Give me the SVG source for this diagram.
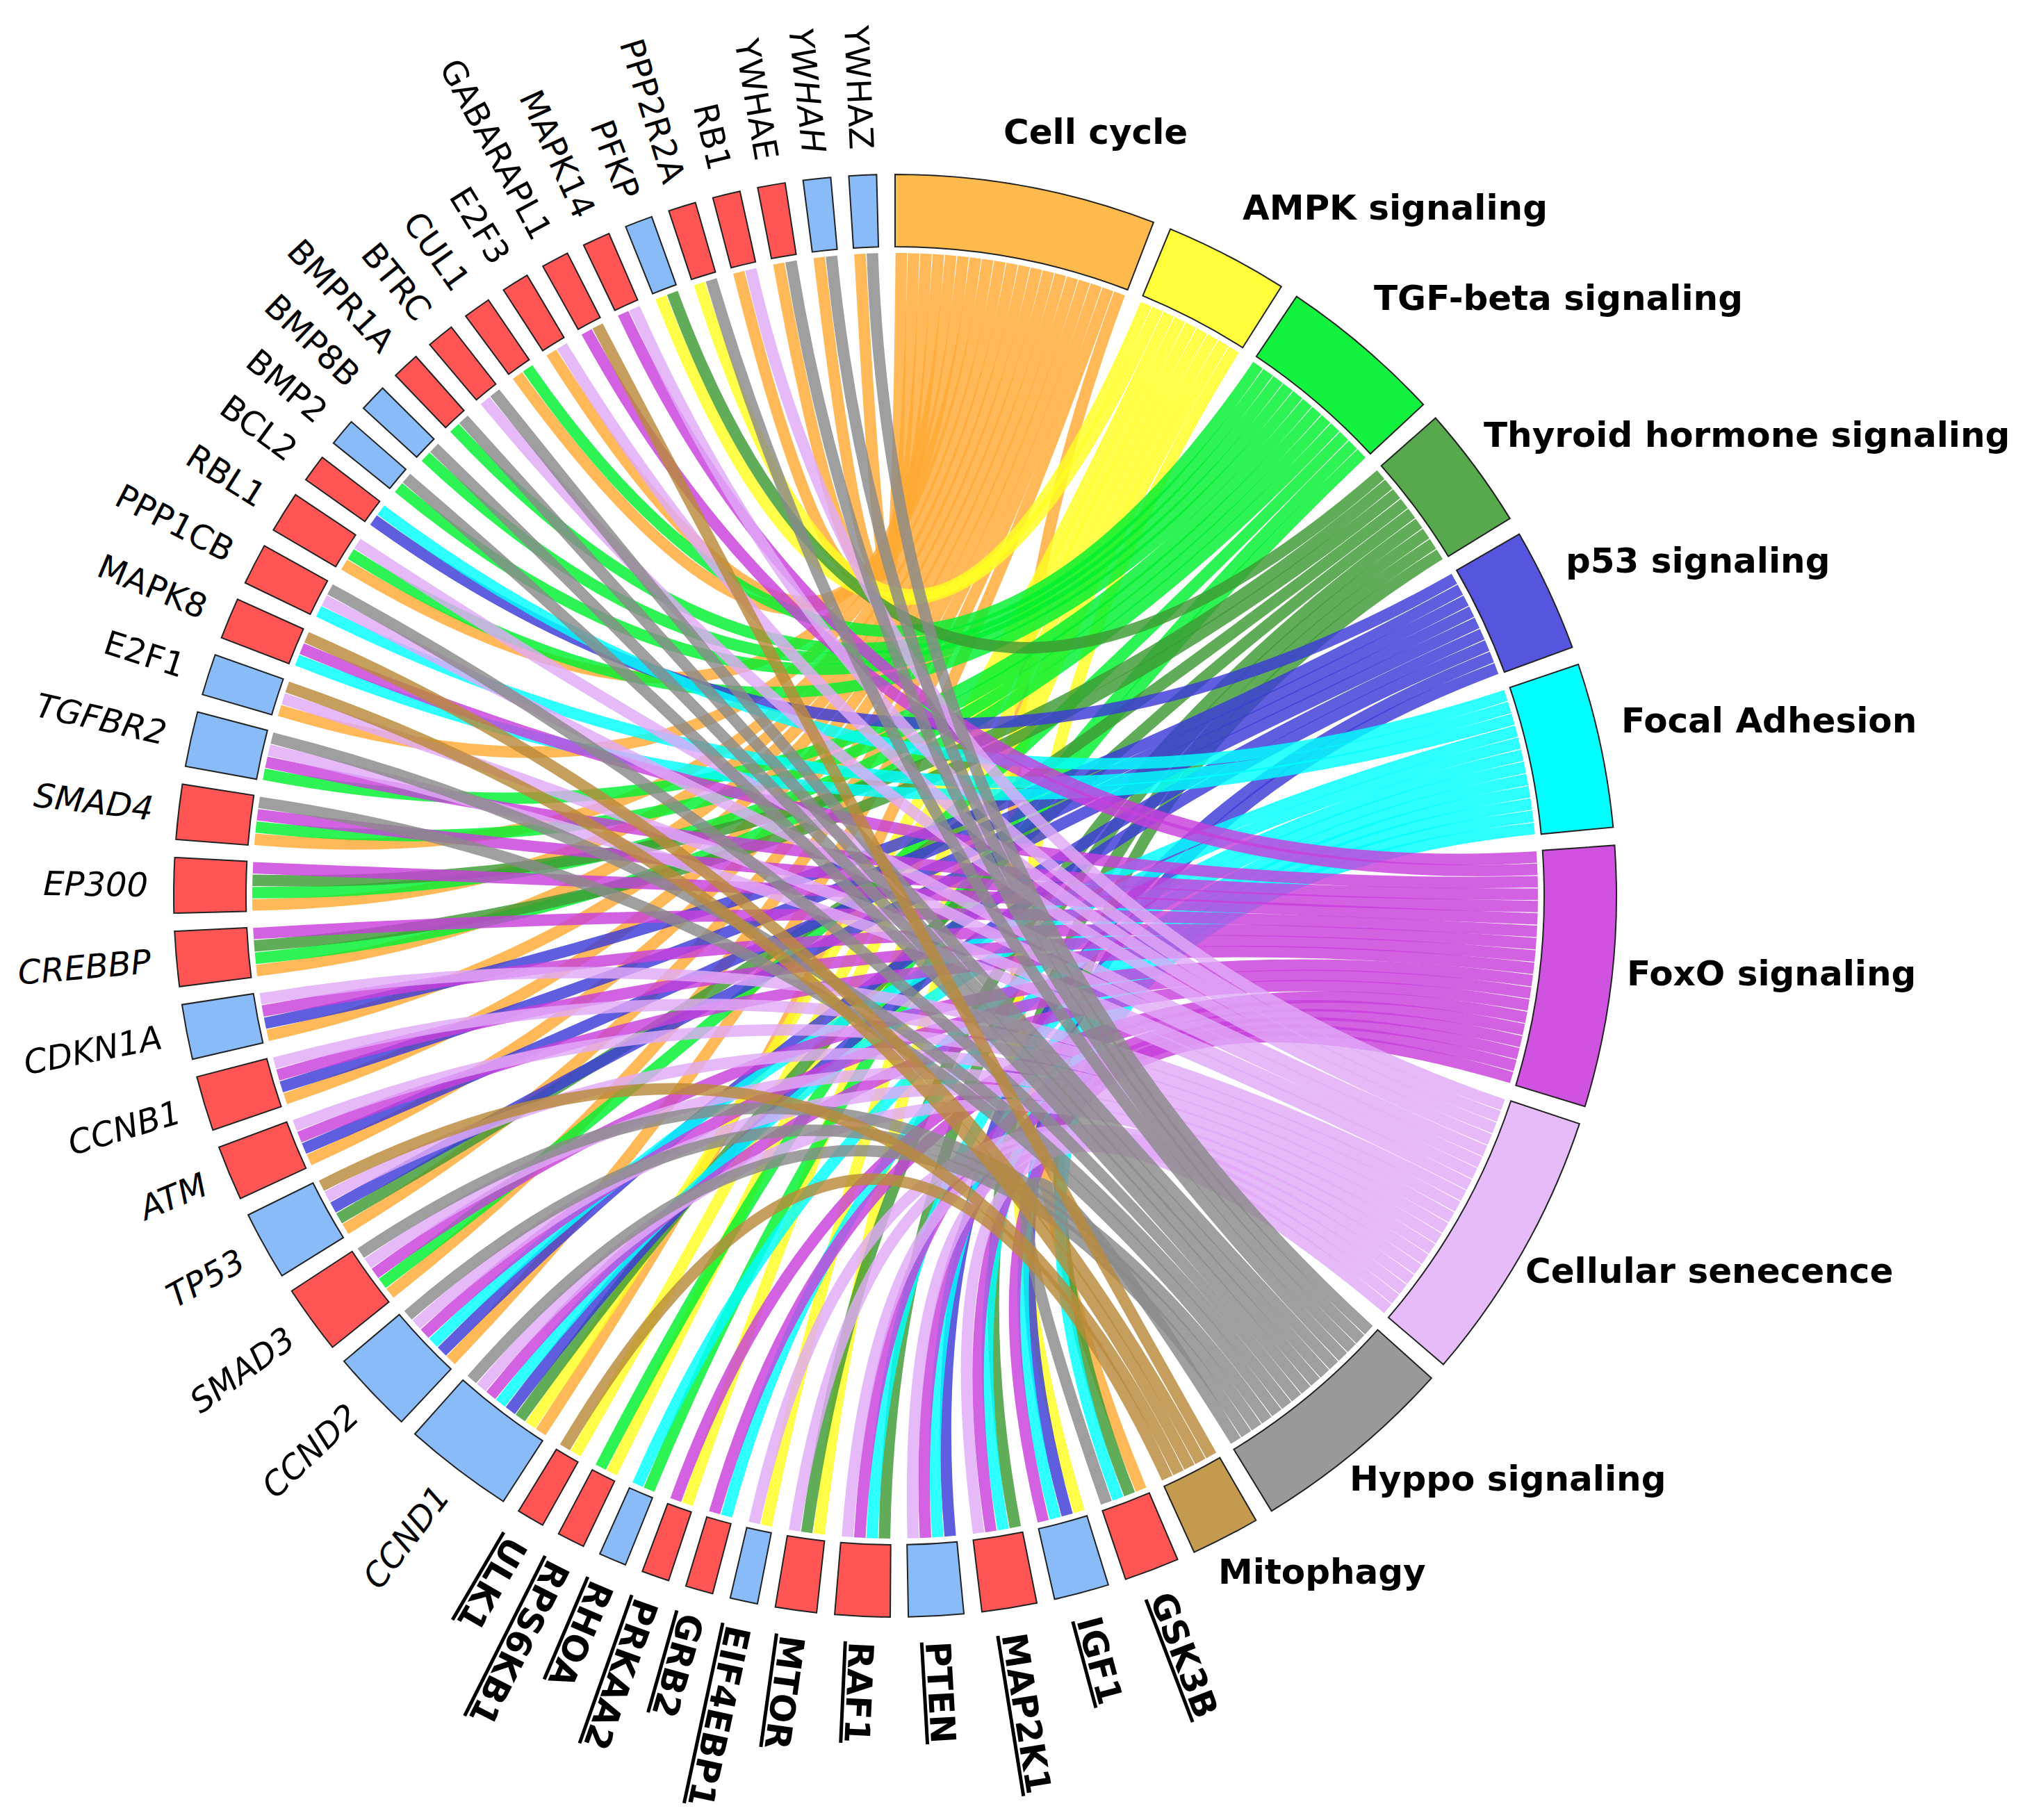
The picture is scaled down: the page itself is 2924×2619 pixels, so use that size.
<svg xmlns="http://www.w3.org/2000/svg" width="2924" height="2619" viewBox="0 0 2924 2619">
<style>
text{font-family:"DejaVu Sans","Liberation Sans",sans-serif;fill:#000}
.pl{font-size:50px;font-weight:bold}
.gl{font-size:48px;text-anchor:end}
.gbt{font-size:50px;font-weight:bold;text-decoration:underline}
.it{font-style:italic}
use{stroke:#222;stroke-width:2}
.kr{fill:#FF5555}.kb{fill:#88BBF8}
.p1{fill:#FFBA4D}.p2{fill:#FFFF3C}.p3{fill:#12F23E}.p4{fill:#58A84E}.p5{fill:#5555DD}
.p6{fill:#00FFFF}.p7{fill:#D052E0}.p8{fill:#E6BBF9}.p9{fill:#999999}.p10{fill:#C49A4E}
.ch{fill:none;stroke-width:16.5;stroke-opacity:.82}
.c1{stroke:#FFAA33}.c2{stroke:#FFFF22}.c3{stroke:#00F030}.c4{stroke:#3E9A34}.c5{stroke:#3A3AD8}
.c6{stroke:#00FFFF}.c7{stroke:#C840DC}.c8{stroke:#E0AAF8}.c9{stroke:#8A8A8A}.c10{stroke:#B98A3A}
</style>
<defs>
<path id="s2" d="M0,-1038A1038,1038 0 0 1 40.03,-1037.23L36.02,-933.31A934,934 0 0 0 0,-934Z"/>
<path id="s3" d="M0,-1038A1038,1038 0 0 1 60.03,-1036.27L54.01,-932.44A934,934 0 0 0 0,-934Z"/>
<path id="s4" d="M0,-1038A1038,1038 0 0 1 80,-1034.92L71.98,-931.23A934,934 0 0 0 0,-934Z"/>
<path id="s5" d="M0,-1038A1038,1038 0 0 1 99.94,-1033.17L89.93,-929.66A934,934 0 0 0 0,-934Z"/>
<path id="s6" d="M0,-1038A1038,1038 0 0 1 119.85,-1031.06L107.84,-927.75A934,934 0 0 0 0,-934Z"/>
<path id="s8" d="M0,-1038A1038,1038 0 0 1 159.52,-1025.67L143.54,-922.9A934,934 0 0 0 0,-934Z"/>
<path id="s9" d="M0,-1038A1038,1038 0 0 1 179.26,-1022.4L161.3,-919.96A934,934 0 0 0 0,-934Z"/>
<path id="s12" d="M0,-1038A1038,1038 0 0 1 238.08,-1010.3L214.22,-909.07A934,934 0 0 0 0,-934Z"/>
<path id="s15" d="M0,-1038A1038,1038 0 0 1 296.1,-994.83L266.43,-895.15A934,934 0 0 0 0,-934Z"/>
<path id="s19" d="M0,-1038A1038,1038 0 0 1 371.91,-969.09L334.64,-871.99A934,934 0 0 0 0,-934Z"/>
<path id="s20" d="M0,-1038A1038,1038 0 0 1 390.52,-961.72L351.39,-865.36A934,934 0 0 0 0,-934Z"/>
</defs>
<rect width="2924" height="2619" fill="#fff"/>
<g transform="translate(1288,1289)">
<g id="connectors">
<path class="ch c1" transform="rotate(0.5525)" d="M0-925Q0 0-59.4-923.1"/>
<path class="ch c1" transform="rotate(1.6575)" d="M0-925Q0 0-135.7-915"/>
<path class="ch c1" transform="rotate(2.7625)" d="M0-925Q0 0-211.1-900.6"/>
<path class="ch c1" transform="rotate(3.8675)" d="M0-925Q0 0-285-880"/>
<path class="ch c1" transform="rotate(4.9725)" d="M0-925Q0 0-560.5-735.8"/>
<path class="ch c1" transform="rotate(6.0775)" d="M0-925Q0 0-619.6-686.8"/>
<path class="ch c1" transform="rotate(7.1825)" d="M0-925Q0 0-846.1-373.8"/>
<path class="ch c1" transform="rotate(8.2875)" d="M0-925Q0 0-914.9-136.2"/>
<path class="ch c1" transform="rotate(9.3925)" d="M0-925Q0 0-922.3 70.3"/>
<path class="ch c1" transform="rotate(10.4975)" d="M0-925Q0 0-907 181.6"/>
<path class="ch c1" transform="rotate(11.6025)" d="M0-925Q0 0-878.3 290.3"/>
<path class="ch c1" transform="rotate(12.7075)" d="M0-925Q0 0-836.6 394.6"/>
<path class="ch c1" transform="rotate(13.8125)" d="M0-925Q0 0-782.5 493.2"/>
<path class="ch c1" transform="rotate(14.9175)" d="M0-925Q0 0-717 584.4"/>
<path class="ch c1" transform="rotate(16.0225)" d="M0-925Q0 0-627.8 679.3"/>
<path class="ch c1" transform="rotate(17.1275)" d="M0-925Q0 0-526.2 760.7"/>
<path class="ch c1" transform="rotate(18.2325)" d="M0-925Q0 0-398.2 834.9"/>
<path class="ch c1" transform="rotate(19.3375)" d="M0-925Q0 0-225.6 897.1"/>
<path class="ch c1" transform="rotate(20.4425)" d="M0-925Q0 0 630.2 677.1"/>
<path class="ch c2" transform="rotate(22.9875)" d="M0-925Q0 0-603.4-701.1"/>
<path class="ch c2" transform="rotate(24.0925)" d="M0-925Q0 0-659.4-648.7"/>
<path class="ch c2" transform="rotate(25.1975)" d="M0-925Q0 0-150.4 912.7"/>
<path class="ch c2" transform="rotate(26.3025)" d="M0-925Q0 0-56.5 923.2"/>
<path class="ch c2" transform="rotate(27.4075)" d="M0-925Q0 0 20.3 924.8"/>
<path class="ch c2" transform="rotate(28.5125)" d="M0-925Q0 0 155.2 911.9"/>
<path class="ch c2" transform="rotate(29.6175)" d="M0-925Q0 0 286.8 879.4"/>
<path class="ch c2" transform="rotate(30.7225)" d="M0-925Q0 0 375.1 845.5"/>
<path class="ch c2" transform="rotate(31.8275)" d="M0-925Q0 0 692.4 613.3"/>
<path class="ch c3" transform="rotate(34.3725)" d="M0-925Q0 0-864.9-327.8"/>
<path class="ch c3" transform="rotate(35.4775)" d="M0-925Q0 0-907.2-180.4"/>
<path class="ch c3" transform="rotate(36.5825)" d="M0-925Q0 0-919-104.6"/>
<path class="ch c3" transform="rotate(37.6875)" d="M0-925Q0 0-924.6-28"/>
<path class="ch c3" transform="rotate(38.7925)" d="M0-925Q0 0-918.7 107.4"/>
<path class="ch c3" transform="rotate(39.8975)" d="M0-925Q0 0-809 448.5"/>
<path class="ch c3" transform="rotate(41.0025)" d="M0-925Q0 0-759 528.8"/>
<path class="ch c3" transform="rotate(42.1075)" d="M0-925Q0 0-689.2 616.9"/>
<path class="ch c3" transform="rotate(43.2125)" d="M0-925Q0 0-609.3 695.9"/>
<path class="ch c3" transform="rotate(44.3175)" d="M0-925Q0 0-138.2 914.6"/>
<path class="ch c3" transform="rotate(45.4225)" d="M0-925Q0 0 288.4 878.9"/>
<path class="ch c3" transform="rotate(46.5275)" d="M0-925Q0 0 376.6 844.9"/>
<path class="ch c4" transform="rotate(49.0725)" d="M0-925Q0 0-865.5-326.3"/>
<path class="ch c4" transform="rotate(50.1775)" d="M0-925Q0 0-609.3 695.9"/>
<path class="ch c4" transform="rotate(51.2825)" d="M0-925Q0 0-520.4 764.7"/>
<path class="ch c4" transform="rotate(52.3875)" d="M0-925Q0 0-120.5 917.1"/>
<path class="ch c4" transform="rotate(53.4925)" d="M0-925Q0 0 283.2 880.6"/>
<path class="ch c4" transform="rotate(54.5975)" d="M0-925Q0 0 673.1 634.4"/>
<path class="ch c4" transform="rotate(55.7025)" d="M0-925Q0 0 755.5 533.7"/>
<path class="ch c4" transform="rotate(56.8075)" d="M0-925Q0 0 855.1 352.6"/>
<path class="ch c4" transform="rotate(57.9125)" d="M0-925Q0 0 908.9 171.6"/>
<path class="ch c5" transform="rotate(60.4575)" d="M0-925Q0 0-840.5 386.3"/>
<path class="ch c5" transform="rotate(61.5625)" d="M0-925Q0 0-270.4 884.6"/>
<path class="ch c5" transform="rotate(62.6675)" d="M0-925Q0 0-161.1 910.9"/>
<path class="ch c5" transform="rotate(63.7725)" d="M0-925Q0 0-49.5 923.7"/>
<path class="ch c5" transform="rotate(64.8775)" d="M0-925Q0 0 62.9 922.8"/>
<path class="ch c5" transform="rotate(65.9825)" d="M0-925Q0 0 333.7 862.7"/>
<path class="ch c5" transform="rotate(67.0875)" d="M0-925Q0 0 467 798.5"/>
<path class="ch c5" transform="rotate(68.1925)" d="M0-925Q0 0 885.1 268.7"/>
<path class="ch c5" transform="rotate(69.2975)" d="M0-925Q0 0 921.2 83.3"/>
<path class="ch c6" transform="rotate(71.8425)" d="M0-925Q0 0-758 530.1"/>
<path class="ch c6" transform="rotate(72.9475)" d="M0-925Q0 0-634.5 673"/>
<path class="ch c6" transform="rotate(74.0525)" d="M0-925Q0 0-562.5 734.3"/>
<path class="ch c6" transform="rotate(75.1575)" d="M0-925Q0 0 451.5 807.3"/>
<path class="ch c6" transform="rotate(76.2625)" d="M0-925Q0 0 574.4 725"/>
<path class="ch c6" transform="rotate(77.3675)" d="M0-925Q0 0 746 546.8"/>
<path class="ch c6" transform="rotate(78.4725)" d="M0-925Q0 0 826.1 416"/>
<path class="ch c6" transform="rotate(79.5775)" d="M0-925Q0 0 903.2 199.7"/>
<path class="ch c6" transform="rotate(80.6825)" d="M0-925Q0 0 920.7 88.7"/>
<path class="ch c6" transform="rotate(81.7875)" d="M0-925Q0 0 924.7-23.6"/>
<path class="ch c6" transform="rotate(82.8925)" d="M0-925Q0 0 917.4-117.9"/>
<path class="ch c6" transform="rotate(83.9975)" d="M0-925Q0 0 896.4-228.3"/>
<path class="ch c7" transform="rotate(86.5425)" d="M0-925Q0 0-860.2 340.1"/>
<path class="ch c7" transform="rotate(87.6475)" d="M0-925Q0 0-829 410.2"/>
<path class="ch c7" transform="rotate(88.7525)" d="M0-925Q0 0-374.2 845.9"/>
<path class="ch c7" transform="rotate(89.8575)" d="M0-925Q0 0-194.5 904.3"/>
<path class="ch c7" transform="rotate(90.9625)" d="M0-925Q0 0-101.2 919.4"/>
<path class="ch c7" transform="rotate(92.0675)" d="M0-925Q0 0-6.8 924.9"/>
<path class="ch c7" transform="rotate(93.1725)" d="M0-925Q0 0 105.4 918.9"/>
<path class="ch c7" transform="rotate(94.2775)" d="M0-925Q0 0 233.4 895.1"/>
<path class="ch c7" transform="rotate(95.3825)" d="M0-925Q0 0 340.2 860.1"/>
<path class="ch c7" transform="rotate(96.4875)" d="M0-925Q0 0 442 812.5"/>
<path class="ch c7" transform="rotate(97.5925)" d="M0-925Q0 0 637.6 670.1"/>
<path class="ch c7" transform="rotate(98.6975)" d="M0-925Q0 0 725.4 573.9"/>
<path class="ch c7" transform="rotate(99.8025)" d="M0-925Q0 0 807.6 450.9"/>
<path class="ch c7" transform="rotate(100.9075)" d="M0-925Q0 0 913.5 145.5"/>
<path class="ch c7" transform="rotate(102.0125)" d="M0-925Q0 0 922.4 69.3"/>
<path class="ch c7" transform="rotate(103.1175)" d="M0-925Q0 0 911-160.2"/>
<path class="ch c7" transform="rotate(104.2225)" d="M0-925Q0 0 884.9-269.4"/>
<path class="ch c7" transform="rotate(105.3275)" d="M0-925Q0 0 845.7-374.8"/>
<path class="ch c7" transform="rotate(106.4325)" d="M0-925Q0 0 803-459.1"/>
<path class="ch c8" transform="rotate(108.9775)" d="M0-925Q0 0-784.9 489.5"/>
<path class="ch c8" transform="rotate(110.0825)" d="M0-925Q0 0-665.3 642.6"/>
<path class="ch c8" transform="rotate(111.1875)" d="M0-925Q0 0-564.2 732.9"/>
<path class="ch c8" transform="rotate(112.2925)" d="M0-925Q0 0-435.4 816.1"/>
<path class="ch c8" transform="rotate(113.3975)" d="M0-925Q0 0-157.9 911.4"/>
<path class="ch c8" transform="rotate(114.5025)" d="M0-925Q0 0-46.2 923.8"/>
<path class="ch c8" transform="rotate(115.6075)" d="M0-925Q0 0 124.7 916.5"/>
<path class="ch c8" transform="rotate(116.7125)" d="M0-925Q0 0 217.7 899"/>
<path class="ch c8" transform="rotate(117.8175)" d="M0-925Q0 0 557.3 738.3"/>
<path class="ch c8" transform="rotate(118.9225)" d="M0-925Q0 0 642.7 665.2"/>
<path class="ch c8" transform="rotate(120.0275)" d="M0-925Q0 0 718.7 582.4"/>
<path class="ch c8" transform="rotate(121.1325)" d="M0-925Q0 0 793.3 475.7"/>
<path class="ch c8" transform="rotate(122.2375)" d="M0-925Q0 0 852.2 359.6"/>
<path class="ch c8" transform="rotate(123.3425)" d="M0-925Q0 0 894.3 236.4"/>
<path class="ch c8" transform="rotate(124.4475)" d="M0-925Q0 0 920.5 90.8"/>
<path class="ch c8" transform="rotate(125.5525)" d="M0-925Q0 0 852.1-359.9"/>
<path class="ch c8" transform="rotate(126.6575)" d="M0-925Q0 0 819.3-429.3"/>
<path class="ch c8" transform="rotate(127.7625)" d="M0-925Q0 0 771.2-510.7"/>
<path class="ch c8" transform="rotate(128.8675)" d="M0-925Q0 0 703.6-600.4"/>
<path class="ch c8" transform="rotate(129.9725)" d="M0-925Q0 0 625.6-681.3"/>
<path class="ch c9" transform="rotate(132.5175)" d="M0-925Q0 0-659.3 648.8"/>
<path class="ch c9" transform="rotate(133.6225)" d="M0-925Q0 0-603.2 701.2"/>
<path class="ch c9" transform="rotate(134.7275)" d="M0-925Q0 0-543.1 748.8"/>
<path class="ch c9" transform="rotate(135.8325)" d="M0-925Q0 0-427.7 820.1"/>
<path class="ch c9" transform="rotate(136.9375)" d="M0-925Q0 0-73.2 922.1"/>
<path class="ch c9" transform="rotate(138.0425)" d="M0-925Q0 0 3.5 925"/>
<path class="ch c9" transform="rotate(139.1475)" d="M0-925Q0 0 80.1 921.5"/>
<path class="ch c9" transform="rotate(140.2525)" d="M0-925Q0 0 156.3 911.7"/>
<path class="ch c9" transform="rotate(141.3575)" d="M0-925Q0 0 359.7 852.2"/>
<path class="ch c9" transform="rotate(142.4625)" d="M0-925Q0 0 572.7 726.4"/>
<path class="ch c9" transform="rotate(143.5675)" d="M0-925Q0 0 656.6 651.6"/>
<path class="ch c9" transform="rotate(144.6725)" d="M0-925Q0 0 924.6 25"/>
<path class="ch c9" transform="rotate(145.7775)" d="M0-925Q0 0 919-105"/>
<path class="ch c9" transform="rotate(146.8825)" d="M0-925Q0 0 890.5-250.2"/>
<path class="ch c9" transform="rotate(147.9875)" d="M0-925Q0 0 205.3-901.9"/>
<path class="ch c10" transform="rotate(150.5325)" d="M0-925Q0 0-30.6 924.5"/>
<path class="ch c10" transform="rotate(151.6375)" d="M0-925Q0 0 568.5 729.7"/>
<path class="ch c10" transform="rotate(152.7425)" d="M0-925Q0 0 640 667.8"/>
<path class="ch c10" transform="rotate(153.8475)" d="M0-925Q0 0 924.9-10.7"/>
<path class="ch c10" transform="rotate(154.9525)" d="M0-925Q0 0 766.5-517.9"/>
</g>
<g id="pw-cell-cycle"><use href="#s19" class="p1"/><text class="pl" x="156" y="-1082">Cell cycle</text></g>
<g id="pw-ampk"><use href="#s9" class="p2" transform="rotate(22.435)"/><text class="pl" x="500" y="-973">AMPK signaling</text></g>
<g id="pw-tgf-beta"><use href="#s12" class="p3" transform="rotate(33.82)"/><text class="pl" x="689" y="-843">TGF-beta signaling</text></g>
<g id="pw-thyroid"><use href="#s9" class="p4" transform="rotate(48.52)"/><text class="pl" x="847" y="-646">Thyroid hormone signaling</text></g>
<g id="pw-p53"><use href="#s9" class="p5" transform="rotate(59.905)"/><text class="pl" x="965" y="-465">p53 signaling</text></g>
<g id="pw-focal-adhesion"><use href="#s12" class="p6" transform="rotate(71.29)"/><text class="pl" x="1045" y="-235">Focal Adhesion</text></g>
<g id="pw-foxo"><use href="#s19" class="p7" transform="rotate(85.99)"/><text class="pl" x="1053" y="129">FoxO signaling</text></g>
<g id="pw-senescence"><use href="#s20" class="p8" transform="rotate(108.425)"/><text class="pl" x="907" y="557">Cellular senecence</text></g>
<g id="pw-hippo"><use href="#s15" class="p9" transform="rotate(131.965)"/><text class="pl" x="654" y="856">Hyppo signaling</text></g>
<g id="pw-mitophagy"><use href="#s5" class="p10" transform="rotate(149.98)"/><text class="pl" x="465" y="990">Mitophagy</text></g>
<g id="gene-GSK3B"><use href="#s4" class="kr" transform="rotate(156.945)"/><text class="gbt" transform="rotate(69.155)" x="1075" dy=".35em">GSK3B</text></g>
<g id="gene-IGF1"><use href="#s4" class="kb" transform="rotate(162.805)"/><text class="gbt" transform="rotate(75.015)" x="1075" dy=".35em">IGF1</text></g>
<g id="gene-MAP2K1"><use href="#s4" class="kr" transform="rotate(168.665)"/><text class="gbt" transform="rotate(80.875)" x="1075" dy=".35em">MAP2K1</text></g>
<g id="gene-PTEN"><use href="#s4" class="kb" transform="rotate(174.525)"/><text class="gbt" transform="rotate(86.735)" x="1075" dy=".35em">PTEN</text></g>
<g id="gene-RAF1"><use href="#s4" class="kr" transform="rotate(180.385)"/><text class="gbt" transform="rotate(92.595)" x="1075" dy=".35em">RAF1</text></g>
<g id="gene-MTOR"><use href="#s3" class="kr" transform="rotate(186.245)"/><text class="gbt" transform="rotate(97.9)" x="1075" dy=".35em">MTOR</text></g>
<g id="gene-EIF4EBP1"><use href="#s2" class="kb" transform="rotate(191)"/><text class="gbt" transform="rotate(102.105)" x="1075" dy=".35em">EIF4EBP1</text></g>
<g id="gene-GRB2"><use href="#s2" class="kr" transform="rotate(194.65)"/><text class="gbt" transform="rotate(105.755)" x="1075" dy=".35em">GRB2</text></g>
<g id="gene-PRKAA2"><use href="#s2" class="kr" transform="rotate(198.3)"/><text class="gbt" transform="rotate(109.405)" x="1075" dy=".35em">PRKAA2</text></g>
<g id="gene-RHOA"><use href="#s2" class="kb" transform="rotate(201.95)"/><text class="gbt" transform="rotate(113.055)" x="1075" dy=".35em">RHOA</text></g>
<g id="gene-RPS6KB1"><use href="#s2" class="kr" transform="rotate(205.6)"/><text class="gbt" transform="rotate(116.705)" x="1075" dy=".35em">RPS6KB1</text></g>
<g id="gene-ULK1"><use href="#s2" class="kr" transform="rotate(209.25)"/><text class="gbt" transform="rotate(120.355)" x="1075" dy=".35em">ULK1</text></g>
<g id="gene-CCND1"><use href="#s8" class="kb" transform="rotate(212.9)"/><text class="gl it" transform="rotate(-52.68)" x="-1075" dy=".35em">CCND1</text></g>
<g id="gene-CCND2"><use href="#s6" class="kb" transform="rotate(223.18)"/><text class="gl it" transform="rotate(-43.505)" x="-1075" dy=".35em">CCND2</text></g>
<g id="gene-SMAD3"><use href="#s5" class="kr" transform="rotate(231.25)"/><text class="gl it" transform="rotate(-35.99)" x="-1075" dy=".35em">SMAD3</text></g>
<g id="gene-TP53"><use href="#s5" class="kb" transform="rotate(238.215)"/><text class="gl it" transform="rotate(-29.02)" x="-1075" dy=".35em">TP53</text></g>
<g id="gene-ATM"><use href="#s4" class="kr" transform="rotate(245.18)"/><text class="gl it" transform="rotate(-22.61)" x="-1075" dy=".35em">ATM</text></g>
<g id="gene-CCNB1"><use href="#s4" class="kr" transform="rotate(251.04)"/><text class="gl it" transform="rotate(-16.75)" x="-1075" dy=".35em">CCNB1</text></g>
<g id="gene-CDKN1A"><use href="#s4" class="kb" transform="rotate(256.9)"/><text class="gl it" transform="rotate(-10.89)" x="-1075" dy=".35em">CDKN1A</text></g>
<g id="gene-CREBBP"><use href="#s4" class="kr" transform="rotate(262.76)"/><text class="gl it" transform="rotate(-5.03)" x="-1075" dy=".35em">CREBBP</text></g>
<g id="gene-EP300"><use href="#s4" class="kr" transform="rotate(268.62)"/><text class="gl it" transform="rotate(0.83)" x="-1075" dy=".35em">EP300</text></g>
<g id="gene-SMAD4"><use href="#s4" class="kr" transform="rotate(274.48)"/><text class="gl it" transform="rotate(6.69)" x="-1075" dy=".35em">SMAD4</text></g>
<g id="gene-TGFBR2"><use href="#s4" class="kb" transform="rotate(280.34)"/><text class="gl it" transform="rotate(12.55)" x="-1075" dy=".35em">TGFBR2</text></g>
<g id="gene-E2F1"><use href="#s3" class="kb" transform="rotate(286.2)"/><text class="gl" transform="rotate(17.86)" x="-1075" dy=".35em">E2F1</text></g>
<g id="gene-MAPK8"><use href="#s3" class="kr" transform="rotate(290.955)"/><text class="gl" transform="rotate(22.61)" x="-1075" dy=".35em">MAPK8</text></g>
<g id="gene-PPP1CB"><use href="#s3" class="kr" transform="rotate(295.71)"/><text class="gl" transform="rotate(27.37)" x="-1075" dy=".35em">PPP1CB</text></g>
<g id="gene-RBL1"><use href="#s3" class="kr" transform="rotate(300.465)"/><text class="gl" transform="rotate(32.12)" x="-1075" dy=".35em">RBL1</text></g>
<g id="gene-BCL2"><use href="#s2" class="kr" transform="rotate(305.22)"/><text class="gl" transform="rotate(36.325)" x="-1075" dy=".35em">BCL2</text></g>
<g id="gene-BMP2"><use href="#s2" class="kb" transform="rotate(308.87)"/><text class="gl" transform="rotate(39.975)" x="-1075" dy=".35em">BMP2</text></g>
<g id="gene-BMP8B"><use href="#s2" class="kb" transform="rotate(312.52)"/><text class="gl" transform="rotate(43.625)" x="-1075" dy=".35em">BMP8B</text></g>
<g id="gene-BMPR1A"><use href="#s2" class="kr" transform="rotate(316.17)"/><text class="gl" transform="rotate(47.275)" x="-1075" dy=".35em">BMPR1A</text></g>
<g id="gene-BTRC"><use href="#s2" class="kr" transform="rotate(319.82)"/><text class="gl" transform="rotate(50.925)" x="-1075" dy=".35em">BTRC</text></g>
<g id="gene-CUL1"><use href="#s2" class="kr" transform="rotate(323.47)"/><text class="gl" transform="rotate(54.575)" x="-1075" dy=".35em">CUL1</text></g>
<g id="gene-E2F3"><use href="#s2" class="kr" transform="rotate(327.12)"/><text class="gl" transform="rotate(58.225)" x="-1075" dy=".35em">E2F3</text></g>
<g id="gene-GABARAPL1"><use href="#s2" class="kr" transform="rotate(330.77)"/><text class="gl" transform="rotate(61.875)" x="-1075" dy=".35em">GABARAPL1</text></g>
<g id="gene-MAPK14"><use href="#s2" class="kr" transform="rotate(334.42)"/><text class="gl" transform="rotate(65.525)" x="-1075" dy=".35em">MAPK14</text></g>
<g id="gene-PFKP"><use href="#s2" class="kb" transform="rotate(338.07)"/><text class="gl" transform="rotate(69.175)" x="-1075" dy=".35em">PFKP</text></g>
<g id="gene-PPP2R2A"><use href="#s2" class="kr" transform="rotate(341.72)"/><text class="gl" transform="rotate(72.825)" x="-1075" dy=".35em">PPP2R2A</text></g>
<g id="gene-RB1"><use href="#s2" class="kr" transform="rotate(345.37)"/><text class="gl" transform="rotate(76.475)" x="-1075" dy=".35em">RB1</text></g>
<g id="gene-YWHAE"><use href="#s2" class="kr" transform="rotate(349.02)"/><text class="gl" transform="rotate(80.125)" x="-1075" dy=".35em">YWHAE</text></g>
<g id="gene-YWHAH"><use href="#s2" class="kb" transform="rotate(352.67)"/><text class="gl it" transform="rotate(83.775)" x="-1075" dy=".35em">YWHAH</text></g>
<g id="gene-YWHAZ"><use href="#s2" class="kb" transform="rotate(356.32)"/><text class="gl" transform="rotate(87.425)" x="-1075" dy=".35em">YWHAZ</text></g>
</g>
</svg>
